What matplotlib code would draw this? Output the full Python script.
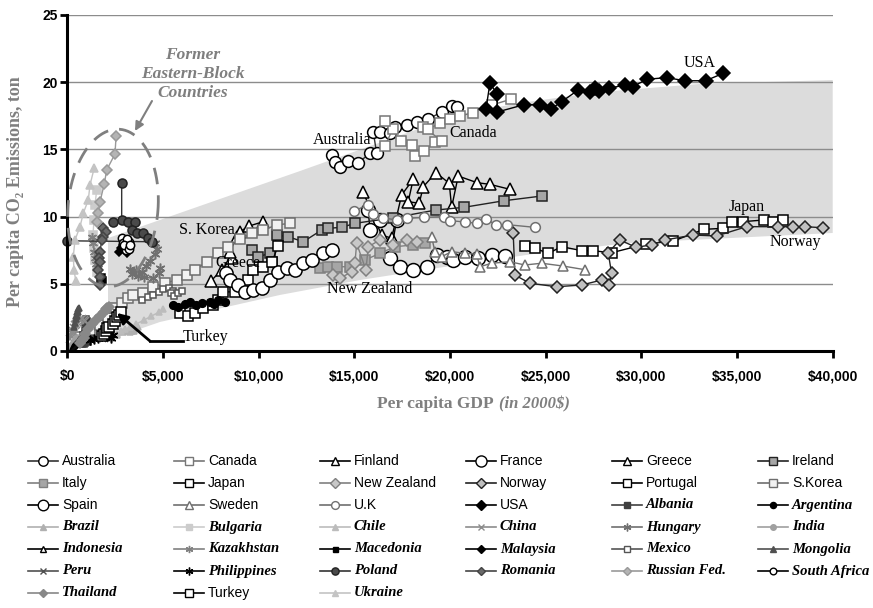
import numpy as np
import matplotlib
matplotlib.use('Agg')
import matplotlib.pyplot as plt
from matplotlib.lines import Line2D

# per capita GDP (2000$), per capita CO2 (t)
australia = [(13815, 14.58), (13987, 14.08), (14249, 13.71), (14683, 14.16), (15205, 14.01), (15817, 14.71),
             (16166, 14.71), (15989, 16.32), (16339, 16.32), (16861, 16.2), (17123, 16.69), (17734, 16.82),
             (18256, 17.06), (18862, 17.24), (19562, 17.8), (20085, 18.23), (20346, 18.18)]
canada = [(16600, 15.25), (17002, 16.5), (16600, 17.14), (17420, 15.65), (18026, 15.33), (18167, 14.53),
          (18653, 14.88), (19212, 15.57), (19562, 15.65), (18570, 16.7), (18830, 16.5), (19474, 16.94),
          (19997, 17.24), (20519, 17.49), (21214, 17.73), (22175, 18.3), (23183, 18.73)]
finland = [(15449, 11.85), (16427, 8.63), (16950, 8.39), (17472, 11.61), (18078, 12.78), (17817, 11.11),
           (18392, 10.99), (18601, 12.22), (19265, 13.27), (19960, 12.48), (20085, 10.69), (20430, 13.02),
           (21423, 12.52), (22086, 12.40), (23131, 12.03)]
france = [(15727, 10.49), (15817, 9.0), (16339, 9.75), (17211, 9.75), (16861, 6.9), (17384, 6.27),
          (18078, 6.03), (18779, 6.27), (19301, 7.14), (19824, 7.02), (20168, 6.77), (20780, 7.0),
          (21460, 6.92), (22190, 7.14), (22870, 7.07)]
greece = [(7500, 5.2), (8066, 6.03), (8589, 6.9), (8500, 7.39), (8851, 8.5), (9023, 8.88), (9500, 9.3),
          (10240, 9.62)]
ireland = [(9635, 7.51), (9980, 7.02), (10591, 7.27), (10680, 6.64), (10941, 8.63), (11547, 8.5),
           (12331, 8.13), (13292, 9.0), (13637, 9.13), (14337, 9.2), (15032, 9.5), (17000, 9.9),
           (19265, 10.49), (20728, 10.69), (22818, 11.18), (24787, 11.53)]
italy = [(13203, 6.15), (13637, 6.27), (14076, 6.27), (14771, 6.27), (15555, 6.77), (16339, 7.27),
         (17123, 7.76), (18078, 7.89), (18689, 8.01)]
japan = [(23914, 7.81), (24437, 7.64), (25132, 7.27), (25833, 7.76), (26878, 7.47), (27484, 7.46),
         (28445, 7.31), (30237, 7.96), (31664, 8.18), (33267, 9.05), (34276, 9.13), (34715, 9.58),
         (35290, 9.62), (36403, 9.75), (36889, 9.62), (37380, 9.75)]
new_zealand = [(13899, 5.65), (14249, 5.41), (14860, 5.9), (15032, 6.53), (15121, 8.01), (15607, 6.03),
               (15727, 7.76), (16339, 8.26), (17034, 7.89), (17734, 8.26), (18256, 8.13)]
norway = [(23303, 8.76), (23392, 5.65), (24176, 5.04), (25571, 4.78), (26878, 4.91), (27923, 5.28),
          (28320, 4.91), (28445, 5.78), (28267, 7.31), (28878, 8.26), (29714, 7.72), (30535, 7.89),
          (31230, 8.26), (32709, 8.63), (33932, 8.56), (35499, 9.25), (37150, 9.25), (37934, 9.25),
          (38546, 9.25), (39502, 9.17)]
portugal = [(5889, 2.8), (6306, 2.6), (6672, 2.83), (7106, 3.18), (7613, 3.42), (7890, 3.79), (8151, 4.41),
            (8762, 4.39), (9457, 5.28), (9719, 6.03), (10241, 6.27), (10696, 6.6), (11009, 7.81)]
s_korea = [(663, 1.04), (1186, 1.56), (1709, 1.93), (2127, 2.46), (2492, 3.18), (2842, 3.55), (3187, 3.92),
           (3449, 4.17), (3971, 4.34), (4494, 4.78), (5105, 5.06), (5716, 5.28), (6239, 5.65), (6672, 6.03),
           (7284, 6.64), (7890, 7.27), (8412, 7.76), (9024, 8.31), (9635, 8.76), (10241, 9.0),
           (10941, 9.38), (11636, 9.5)]
spain = [(8300, 5.8), (8500, 5.28), (8935, 4.91), (9285, 4.41), (9719, 4.54), (10158, 4.67), (10591, 5.28),
         (11025, 5.9), (11464, 6.15), (11897, 6.03), (12331, 6.53), (12770, 6.77), (13376, 7.27),
         (13815, 7.51)]
sweden = [(19040, 8.5), (19212, 7.39), (19562, 7.02), (20085, 7.39), (20780, 7.27), (21391, 7.2),
          (21564, 6.27), (22175, 6.53), (23131, 6.64), (23914, 6.4), (24787, 6.53), (25916, 6.32),
          (27050, 6.05)]
uk = [(15000, 10.4), (15700, 10.9), (16000, 10.2), (16500, 9.9), (17211, 9.75), (17734, 9.87),
      (18653, 9.94), (19666, 10.0), (20000, 9.7), (20780, 9.6), (21391, 9.5), (21900, 9.8), (22400, 9.4),
      (23000, 9.4), (24437, 9.2)]
usa = [(21878, 17.98), (22086, 19.92), (22468, 19.12), (22468, 17.78), (23878, 18.33), (24699, 18.33),
       (25274, 18.0), (25833, 18.55), (26700, 19.42), (27311, 19.29), (27572, 19.55), (27797, 19.37),
       (28320, 19.55), (29140, 19.79), (29542, 19.67), (30305, 20.22), (31319, 20.34), (32275, 20.11),
       (33357, 20.11), (34276, 20.66)]
albania = [(900, 1.3), (950, 1.6), (1000, 1.9), (1050, 2.2), (1000, 2.4), (950, 2.1), (800, 1.2),
           (700, 0.6), (750, 0.5), (850, 0.5), (950, 0.6), (1100, 0.7), (1200, 0.9)]
argentina = [(5539, 3.42), (5784, 3.27), (6150, 3.5), (6411, 3.67), (6725, 3.42), (7038, 3.57),
             (7456, 3.67), (7665, 3.5), (7890, 3.79), (8240, 3.67)]
brazil = [(2300, 1.0), (2600, 1.2), (2900, 1.4), (3200, 1.5), (3400, 1.6), (3500, 1.5), (3300, 1.4),
          (3400, 1.5), (3500, 1.6), (3600, 1.7), (3700, 1.8)]
bulgaria = [(1536, 11.98), (1447, 10.86), (1395, 9.75), (1343, 8.63), (1395, 7.66), (1447, 6.77),
            (1552, 5.88)]
chile = [(2600, 1.3), (2800, 1.5), (3000, 1.6), (3300, 1.8), (3600, 2.0), (4000, 2.3), (4400, 2.6),
         (4800, 2.9), (5000, 3.1)]
china = [(150, 0.9), (180, 1.1), (220, 1.3), (260, 1.4), (300, 1.5), (350, 1.7), (400, 1.9), (470, 2.0),
         (550, 2.1), (650, 2.3), (750, 2.4), (850, 2.3), (950, 2.2)]
hungary = [(4400, 8.2), (4600, 8.0), (4700, 7.6), (4600, 7.2), (4300, 6.7), (4100, 6.3), (3900, 5.9),
           (3700, 5.6), (3400, 5.7), (3300, 6.1), (3600, 6.0), (4000, 5.5), (4500, 5.4), (4800, 5.8),
           (4850, 6.2)]
india = [(250, 0.35), (270, 0.4), (290, 0.45), (310, 0.5), (340, 0.55), (370, 0.6), (400, 0.7), (430, 0.8),
         (460, 0.9), (490, 0.95)]
indonesia = [(300, 0.3), (350, 0.35), (400, 0.45), (450, 0.55), (500, 0.6), (550, 0.7), (600, 0.8),
             (700, 0.9), (800, 1.1), (850, 1.2), (800, 1.3)]
kazakhstan = [(1300, 8.5), (1350, 8.0), (1400, 7.4), (1450, 6.9), (1500, 6.5), (1600, 6.2)]
macedonia = [(1700, 5.1), (1750, 5.3), (1800, 5.5), (1850, 5.3)]
malaysia = [(2700, 7.4), (2800, 7.7), (2900, 7.9), (3000, 7.6), (3100, 7.3), (3200, 7.6)]
mexico = [(3900, 3.8), (4200, 4.0), (4500, 4.2), (4800, 4.4), (5000, 4.6), (5300, 4.7), (5500, 4.5),
          (5400, 4.3), (5600, 4.1), (5800, 4.3), (6000, 4.5)]
mongolia = [(350, 1.8), (400, 2.1), (450, 2.4), (500, 2.6), (550, 2.9), (600, 3.2), (550, 3.1), (500, 2.9),
            (480, 2.6)]
peru = [(1900, 1.2), (2000, 1.3), (2100, 1.4), (2200, 1.4), (2000, 1.2), (1800, 1.0), (1900, 1.0),
        (2100, 1.1)]
philippines = [(1200, 0.8), (1400, 0.9), (1600, 1.0), (1800, 1.1), (2000, 1.3), (2200, 1.4), (2400, 1.2),
               (2300, 1.0)]
poland = [(2842, 12.52), (2842, 9.75), (2404, 9.62), (3187, 9.62), (3537, 9.62), (3365, 9.0), (3626, 8.76),
          (3971, 8.76), (4232, 8.39), (4410, 8.13), (0, 8.2)]
romania = [(1881, 9.13), (2022, 8.85), (1865, 8.48), (1797, 8.26), (1709, 7.37), (1656, 6.92), (1709, 6.62),
           (1620, 6.03), (1709, 5.53), (1709, 4.91)]
russia = [(2550, 16.0), (2492, 14.66), (2059, 13.47), (1933, 12.43), (1709, 11.11), (1620, 10.25),
          (1552, 9.6)]
south_africa = [(2842, 8.4), (2900, 8.0), (3000, 7.7), (3050, 7.5), (3150, 7.8), (3200, 8.1), (3100, 8.3),
                (2950, 7.9), (3250, 7.6), (3300, 7.9)]
thailand = [(650, 0.6), (750, 0.8), (850, 1.0), (950, 1.3), (1100, 1.6), (1300, 2.0), (1500, 2.3),
            (1700, 2.6), (1900, 2.9), (2100, 3.1), (2200, 3.3), (2000, 3.1), (2100, 3.2)]
turkey = [(1800, 1.1), (1900, 1.3), (2000, 1.5), (2100, 1.7), (2200, 1.8), (2400, 2.0), (2500, 2.2),
          (2600, 2.5), (2700, 2.7), (2800, 2.9)]
ukraine = [(1411, 13.64), (1186, 12.35), (1097, 11.24), (836, 10.25), (664, 9.25), (402, 8.26), (314, 7.02),
           (350, 6.0), (450, 5.2)]

# shaded band
band_up_gdp = [2127, 12159, 20519, 23653, 27828, 33053, 40000]
band_up_co2 = [8.4, 13.39, 17.63, 18.45, 19.27, 19.87, 20.16]
band_lo_gdp = [2127, 4844, 11114, 15293, 19995, 24698, 29400, 40000]
band_lo_co2 = [0.82, 2.16, 4.17, 5.28, 6.32, 7.29, 8.04, 8.78]

STAR = (6, 2, 0)
# name, data, marker, size, face, edge, line colour, italic label
countries = [
    ('Australia', australia, 'o', 8.5, 'white', 'black', '#333333', False),
    ('Canada', canada, 's', 7, 'white', '#777777', '#777777', False),
    ('Finland', finland, '^', 8, 'white', 'black', 'black', False),
    ('France', france, 'o', 10, 'white', 'black', 'black', False),
    ('Greece', greece, '^', 8, 'white', 'black', 'black', False),
    ('Ireland', ireland, 's', 7, '#a6a6a6', '#222222', '#222222', False),
    ('Italy', italy, 's', 7, '#a6a6a6', '#808080', '#808080', False),
    ('Japan', japan, 's', 7.5, 'white', 'black', 'black', False),
    ('New Zealand', new_zealand, 'D', 6.5, '#c8c8c8', '#808080', '#808080', False),
    ('Norway', norway, 'D', 6.5, '#c0c0c0', '#222222', '#222222', False),
    ('Portugal', portugal, 's', 7, 'white', 'black', 'black', False),
    ('S.Korea', s_korea, 's', 7, '#f2f2f2', '#6e6e6e', '#6e6e6e', False),
    ('Spain', spain, 'o', 9.5, 'white', 'black', 'black', False),
    ('Sweden', sweden, '^', 7, 'white', '#707070', '#707070', False),
    ('U.K', uk, 'o', 7, 'white', '#707070', '#707070', False),
    ('USA', usa, 'D', 7, 'black', 'black', 'black', False),
    ('Albania', albania, 's', 5, '#404040', '#404040', '#404040', True),
    ('Argentina', argentina, 'o', 5.5, 'black', 'black', 'black', True),
    ('Brazil', brazil, '^', 5, '#b0b0b0', '#b0b0b0', '#b0b0b0', True),
    ('Bulgaria', bulgaria, 's', 6, '#cccccc', '#cccccc', '#cccccc', True),
    ('Chile', chile, '^', 5, '#bcbcbc', '#bcbcbc', '#bcbcbc', True),
    ('China', china, 'x', 5.5, '#8c8c8c', '#8c8c8c', '#8c8c8c', True),
    ('Hungary', hungary, STAR, 7, '#707070', '#707070', '#707070', True),
    ('India', india, 'o', 5, '#a0a0a0', '#a0a0a0', '#a0a0a0', True),
    ('Indonesia', indonesia, '^', 5, 'white', 'black', 'black', True),
    ('Kazakhstan', kazakhstan, STAR, 6.5, '#808080', '#808080', '#808080', True),
    ('Macedonia', macedonia, 's', 4.5, 'black', 'black', 'black', True),
    ('Malaysia', malaysia, 'D', 4.5, 'black', 'black', 'black', True),
    ('Mexico', mexico, 's', 5, 'white', '#555555', '#555555', True),
    ('Mongolia', mongolia, '^', 5, '#505050', '#505050', '#505050', True),
    ('Peru', peru, 'x', 5.5, '#505050', '#505050', '#505050', True),
    ('Philippines', philippines, STAR, 7, 'black', 'black', 'black', True),
    ('Poland', poland, 'o', 6.5, '#4a4a4a', '#222222', '#333333', True),
    ('Romania', romania, 'D', 5, '#6a6a6a', '#444444', '#444444', True),
    ('Russian Fed.', russia, 'D', 5, '#b4b4b4', '#999999', '#999999', True),
    ('South Africa', south_africa, 'o', 6, 'white', 'black', 'black', True),
    ('Thailand', thailand, 'D', 5, '#888888', '#888888', '#888888', True),
    ('Turkey', turkey, 's', 6.5, 'white', 'black', 'black', False),
    ('Ukraine', ukraine, '^', 5.5, '#c4c4c4', '#c4c4c4', '#c4c4c4', True),
]

W, H = 873, 608
fig = plt.figure(figsize=(W / 100, H / 100), dpi=100)
ax = fig.add_axes([67.3 / W, 1 - 351 / H, (832.7 - 67.3) / W, (351 - 15) / H])
ax.set_xlim(0, 40000)
ax.set_ylim(0, 25)

# band and grid
bx = band_up_gdp + band_lo_gdp[::-1]
by = band_up_co2 + band_lo_co2[::-1]
ax.fill(bx, by, color='#dcdcdc', lw=0, zorder=0)
for yv in range(5, 26, 5):
    ax.axhline(yv, color='#8c8c8c', lw=1, zorder=1)

for i, (name, d, mk, ms, fc, ec, lc, it) in enumerate(countries):
    g = [p[0] for p in d]
    c = [p[1] for p in d]
    ax.plot(g, c, color=lc, lw=1.0, marker=mk, ms=ms, mfc=fc, mec=ec, mew=1.1,
            zorder=2 + i * 0.01, clip_on=False)

for s in ['top', 'right']:
    ax.spines[s].set_visible(False)
for s in ['left', 'bottom']:
    ax.spines[s].set_linewidth(2.2)
ax.set_xticks(np.arange(0, 40001, 5000))
ax.set_xticklabels(['$0'] + ['${:,}'.format(v) for v in range(5000, 40001, 5000)])
ax.set_yticks(range(0, 26, 5))
ax.tick_params(axis='both', direction='out', length=5, width=2, labelsize=10)
ax.tick_params(axis='x', pad=8)
ax.tick_params(axis='y', pad=2)
for lab in ax.get_xticklabels() + ax.get_yticklabels():
    lab.set_fontfamily('Liberation Sans')
    lab.set_fontweight('bold')

serif = ['Liberation Serif', 'DejaVu Serif']
gray = '#7f7f7f'
fig.text(16 / W, 1 - 192 / H, 'Per capita CO\u2082 Emissions, ton', rotation=90, ha='center', va='center',
         family=serif, weight='bold', size=13, color=gray)
fig.text(497 / W, 1 - 404 / H, 'Per capita GDP ', ha='right', va='center', family=serif,
         weight='bold', size=12.5, color=gray)
fig.text(499 / W, 1 - 404 / H, '(in 2000$)', ha='left', va='center', family=serif,
         weight='bold', style='italic', size=12, color=gray)

# country labels
lab_kw = dict(family=serif, size=11.5, color='black', ha='center', va='center', zorder=5)
ax.text(33057, 21.4, 'USA', **lab_kw)
ax.text(35499, 10.74, 'Japan', **lab_kw)
ax.text(38036, 8.13, 'Norway', **lab_kw)
ax.text(21214, 16.24, 'Canada', **lab_kw)
ax.text(14337, 15.7, 'Australia', **lab_kw)
ax.text(15780, 4.59, 'New Zealand', **lab_kw)
ax.text(7284, 9.0, 'S. Korea', **lab_kw)
ax.text(8935, 6.53, 'Greece', **lab_kw)
ax.text(6045, 1.04, 'Turkey', family=serif, size=11.5, ha='left', va='center', zorder=5)
ax.plot([4321, 6045], [0.74, 0.74], color='black', lw=2, zorder=5)
ax.annotate('', xy=(2597, 2.83), xytext=(4321, 0.74),
            arrowprops=dict(arrowstyle='-|>', color='black', lw=2, mutation_scale=16, shrinkA=0, shrinkB=0),
            zorder=5)

# eastern block ellipse
t = np.linspace(0, 2 * np.pi, 200)
phi = np.deg2rad(5)
ex = 45 * np.cos(t)
ey = 79 * np.sin(t)
rx = ex * np.cos(phi) + ey * np.sin(phi)
ry = -ex * np.sin(phi) + ey * np.cos(phi)
ax.plot(2388 + rx * 5000 / 95.7, 10.64 + ry / 13.44, color=gray, lw=2, dashes=(6, 4), zorder=6,
        clip_on=False)
ax.text(6568, 20.6, 'Former\nEastern-Block\nCountries', family=serif, weight='bold', style='italic',
        size=12.5, color=gray, ha='center', va='center', linespacing=1.25, zorder=6)
ax.annotate('', xy=(3537, 16.37), xytext=(4425, 18.6),
            arrowprops=dict(arrowstyle='-|>', color=gray, lw=1.5, mutation_scale=13, shrinkA=0, shrinkB=0),
            zorder=6)

# legend, laid out row by row
col_x = [28, 174, 320, 466, 612, 758]
for i, (name, d, mk, ms, fc, ec, lc, it) in enumerate(countries):
    r, c = divmod(i, 6)
    x0 = col_x[c]
    y0 = 461 + 22 * r
    xs = [x0 / W, (x0 + 15) / W, (x0 + 30) / W]
    ys = [1 - y0 / H] * 3
    fig.add_artist(Line2D(xs, ys, transform=fig.transFigure, color=lc, lw=1.2, marker=mk,
                          ms=ms * 0.8, mfc=fc, mec=ec, mew=1.0, markevery=[1]))
    if it:
        fig.text((x0 + 34) / W, 1 - y0 / H, name, family=serif, weight='bold', style='italic',
                 size=10.5, va='center', ha='left')
    else:
        fig.text((x0 + 34) / W, 1 - y0 / H, name, family='Liberation Sans', size=10,
                 va='center', ha='left')

fig.savefig('out.png', dpi=100)
